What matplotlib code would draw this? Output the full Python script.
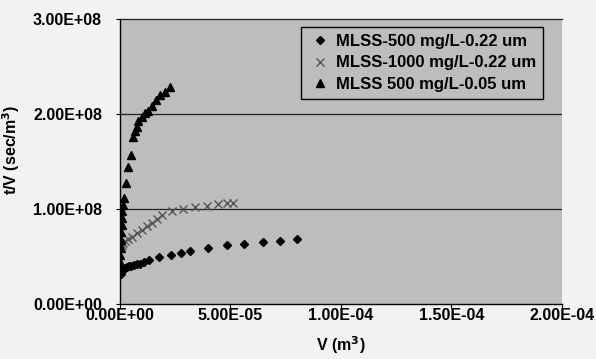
import matplotlib
matplotlib.use("Agg")
import matplotlib.pyplot as plt
from matplotlib.ticker import FixedLocator, FuncFormatter

plt.rcParams['font.family'] = ['Liberation Sans', 'DejaVu Sans']
plt.rcParams['font.weight'] = 'bold'

# Series 1: MLSS-500 mg/L-0.22 um (diamonds)
v1 = [0.3e-6, 0.9e-6, 1.4e-6, 2.3e-6, 3.2e-6, 4.1e-6, 5.0e-6, 6.3e-6, 7.7e-6, 9.0e-6,
      10.9e-6, 13.1e-6, 17.8e-6, 22.9e-6, 27.5e-6, 31.7e-6, 40.0e-6, 48.3e-6, 56.3e-6,
      64.6e-6, 72.4e-6, 80.3e-6]
tv1 = [31.6e6, 34.7e6, 36.8e6, 37.9e6, 38.9e6, 39.5e6, 40.0e6, 41.1e6, 41.6e6, 42.6e6,
       44.2e6, 46.3e6, 49.8e6, 51.6e6, 54.0e6, 56.1e6, 59.3e6, 61.6e6, 63.4e6,
       65.5e6, 66.6e6, 68.1e6]

# Series 2: MLSS-1000 mg/L-0.22 um (crosses)
v2 = [0.45e-6, 0.9e-6, 1.4e-6, 2.3e-6, 3.6e-6, 5.3e-6, 7.6e-6, 9.8e-6, 12.1e-6, 14.3e-6,
      16.6e-6, 18.9e-6, 23.4e-6, 28.6e-6, 33.9e-6, 39.2e-6, 44.5e-6, 48.3e-6, 51.3e-6]
tv2 = [58.9e6, 62.1e6, 64.2e6, 66.3e6, 68.4e6, 70.8e6, 74.4e6, 77.9e6, 82.1e6, 85.6e6,
       89.5e6, 93.7e6, 98.2e6, 99.7e6, 101.8e6, 103.2e6, 104.9e6, 106.0e6, 106.0e6]

# Series 3: MLSS 500 mg/L-0.05 um (triangles)
v3 = [0.14e-6, 0.23e-6, 0.36e-6, 0.45e-6, 0.6e-6, 0.7e-6, 0.9e-6, 1.1e-6, 1.4e-6, 1.8e-6,
      2.7e-6, 3.8e-6, 4.8e-6, 6.0e-6, 6.6e-6, 7.5e-6, 8.3e-6, 9.8e-6, 11.3e-6, 12.7e-6,
      14.3e-6, 16.3e-6, 18.1e-6, 20.4e-6, 22.6e-6]
tv3 = [44.2e6, 51.6e6, 58.9e6, 67.4e6, 75.8e6, 83.2e6, 90.5e6, 97.9e6, 104.2e6, 111.3e6,
       127.1e6, 144.5e6, 156.8e6, 176.1e6, 182.1e6, 186.3e6, 192.6e6, 197.2e6, 200.7e6, 203.7e6,
       208.4e6, 214.7e6, 220.0e6, 223.2e6, 228.7e6]

labels = ['MLSS-500 mg/L-0.22 um', 'MLSS-1000 mg/L-0.22 um', 'MLSS 500 mg/L-0.05 um']
xticks = [0, 5e-5, 1e-4, 1.5e-4, 2e-4]
yticks = [0, 1e8, 2e8, 3e8]

fig = plt.figure(figsize=(5.96, 3.59), dpi=100, facecolor='#f2f2f2')
ax = fig.add_axes([0.2013, 0.1532, 0.7416, 0.7938])
ax.set_facecolor('#bdbdbd')

ax.plot(v1, tv1, linestyle='none', marker='D', markersize=4.5, color='black', label=labels[0])
ax.plot(v2, tv2, linestyle='none', marker='x', markersize=6, markeredgewidth=1.0, color='#555555', label=labels[1])
ax.plot(v3, tv3, linestyle='none', marker='^', markersize=6, color='black', label=labels[2])

ax.set_xlim(0, 2e-4)
ax.set_ylim(0, 3e8)
ax.xaxis.set_major_locator(FixedLocator(xticks))
ax.yaxis.set_major_locator(FixedLocator(yticks))
fmt = FuncFormatter(lambda v, p: f"{v:.2E}")
ax.xaxis.set_major_formatter(fmt)
ax.yaxis.set_major_formatter(fmt)

for y in yticks[1:3]:
    ax.axhline(y, color='#222222', linewidth=0.9, zorder=0.5)

ax.spines['right'].set_visible(False)
ax.spines['top'].set_color('#222222')
ax.spines['top'].set_linewidth(0.9)
ax.spines['left'].set_linewidth(1.0)
ax.spines['bottom'].set_linewidth(1.0)

ax.tick_params(axis='both', direction='out', length=3, width=0.8, labelsize=11.5)
ax.tick_params(axis='y', pad=10)
ax.tick_params(axis='x', pad=0)

ax.set_xlabel('V (m$^3$)', fontsize=11.5, fontweight='bold', labelpad=8)
ax.set_ylabel('t/V (sec/m$^3$)', fontsize=11.5, fontweight='bold')
ax.yaxis.set_label_coords(-0.222, 0.54)

leg = ax.legend(loc='upper right', bbox_to_anchor=(0.957, 0.972), borderaxespad=0,
                fancybox=False, edgecolor='black', facecolor='#bdbdbd', framealpha=1,
                handlelength=1.4, handletextpad=0.3, labelspacing=0.4,
                borderpad=0.4, prop={'weight': 'bold', 'size': 12})
leg.get_frame().set_linewidth(1.0)

fig.savefig('out.png', dpi=100, facecolor=fig.get_facecolor())
